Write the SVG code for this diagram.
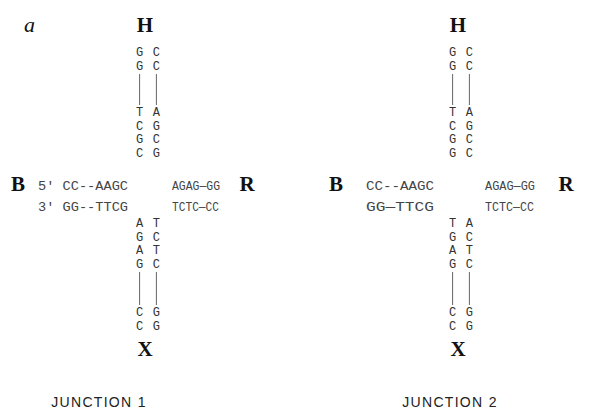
<svg xmlns="http://www.w3.org/2000/svg" width="593" height="416" viewBox="0 0 593 416">
<style>
.lbl{font-family:"Liberation Serif",serif;font-weight:bold;font-size:21px;fill:#111;text-anchor:middle}
.it{font-family:"Liberation Serif",serif;font-style:italic;font-size:22px;fill:#111}
.nt{font-family:"Liberation Mono",monospace;font-size:12px;fill:#333}
.st{font-family:"Liberation Mono",monospace;font-size:13.5px;fill:#444}
.cap{font-family:"Liberation Sans",sans-serif;font-size:14px;fill:#222;text-anchor:middle;letter-spacing:1.3px}
.bb{stroke:#555;stroke-width:0.9;fill:none}
</style>
<rect width="593" height="416" fill="#fff"/>
<text class="it" x="24" y="32">a</text>

<!-- Junction 1 -->
<g id="j1">
  <g id="j1-H">
    <text class="lbl" x="145" y="32">H</text>
    <text class="nt" x="136" y="56" textLength="24">G C</text>
    <text class="nt" x="136" y="69.5" textLength="24">G C</text>
    <text class="nt" x="136" y="116" textLength="24">T A</text>
    <text class="nt" x="136" y="129.5" textLength="24">C G</text>
    <text class="nt" x="136" y="143" textLength="24">G C</text>
    <text class="nt" x="136" y="156.5" textLength="24">C G</text>
  </g>
  <g id="j1-B">
    <text class="lbl" x="18" y="191">B</text>
    <text class="st" x="38" y="190" textLength="90" lengthAdjust="spacingAndGlyphs">5' CC--AAGC</text>
    <text class="st" x="38" y="211" textLength="90" lengthAdjust="spacingAndGlyphs">3' GG--TTCG</text>
  </g>
  <g id="j1-R">
    <text class="st" x="172" y="190" textLength="48" lengthAdjust="spacingAndGlyphs">AGAG—GG</text>
    <text class="st" x="172" y="211" textLength="47" lengthAdjust="spacingAndGlyphs">TCTC—CC</text>
    <text class="lbl" x="247" y="191">R</text>
  </g>
  <g id="j1-X">
    <text class="nt" x="136" y="227" textLength="24">A T</text>
    <text class="nt" x="136" y="240.5" textLength="24">G C</text>
    <text class="nt" x="136" y="254" textLength="24">A T</text>
    <text class="nt" x="136" y="267.5" textLength="24">G C</text>
    <text class="nt" x="136" y="316" textLength="24">C G</text>
    <text class="nt" x="136" y="329.5" textLength="24">C G</text>
    <text class="lbl" x="145" y="356">X</text>
  </g>
  <text class="cap" x="99" y="407">JUNCTION 1</text>
</g>

<!-- Junction 2 -->
<g id="j2">
  <g id="j2-H">
    <text class="lbl" x="458" y="32">H</text>
    <text class="nt" x="449" y="56" textLength="24">G C</text>
    <text class="nt" x="449" y="69.5" textLength="24">G C</text>
    <text class="nt" x="449" y="116" textLength="24">T A</text>
    <text class="nt" x="449" y="129.5" textLength="24">C G</text>
    <text class="nt" x="449" y="143" textLength="24">G C</text>
    <text class="nt" x="449" y="156.5" textLength="24">G C</text>
  </g>
  <g id="j2-B">
    <text class="lbl" x="336" y="191">B</text>
    <text class="st" x="366" y="190" textLength="68" lengthAdjust="spacingAndGlyphs">CC--AAGC</text>
    <text class="st" x="366" y="211" textLength="68" lengthAdjust="spacingAndGlyphs">GG—TTCG</text>
  </g>
  <g id="j2-R">
    <text class="st" x="485" y="190" textLength="50" lengthAdjust="spacingAndGlyphs">AGAG—GG</text>
    <text class="st" x="485" y="211" textLength="49" lengthAdjust="spacingAndGlyphs">TCTC—CC</text>
    <text class="lbl" x="566" y="191">R</text>
  </g>
  <g id="j2-X">
    <text class="nt" x="449" y="227" textLength="24">T A</text>
    <text class="nt" x="449" y="240.5" textLength="24">G C</text>
    <text class="nt" x="449" y="254" textLength="24">A T</text>
    <text class="nt" x="449" y="267.5" textLength="24">G C</text>
    <text class="nt" x="449" y="316" textLength="24">C G</text>
    <text class="nt" x="449" y="329.5" textLength="24">C G</text>
    <text class="lbl" x="458" y="356">X</text>
  </g>
  <text class="cap" x="450" y="407">JUNCTION 2</text>
</g>

<g id="connectors" class="bb">
  <line x1="139.6" y1="74" x2="139.6" y2="105"/>
  <line x1="156.4" y1="74" x2="156.4" y2="105"/>
  <line x1="139.6" y1="272" x2="139.6" y2="305"/>
  <line x1="156.4" y1="272" x2="156.4" y2="305"/>
  <line x1="452.6" y1="74" x2="452.6" y2="105"/>
  <line x1="469.4" y1="74" x2="469.4" y2="105"/>
  <line x1="452.6" y1="272" x2="452.6" y2="305"/>
  <line x1="469.4" y1="272" x2="469.4" y2="305"/>
</g>
</svg>
